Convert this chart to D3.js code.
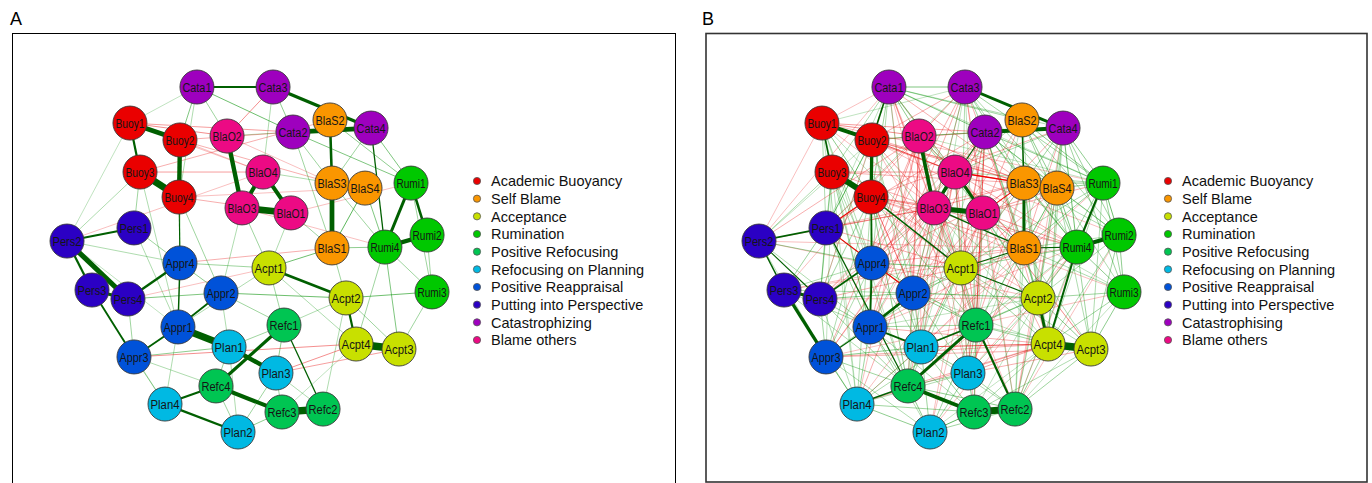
<!DOCTYPE html>
<html>
<head>
<meta charset="utf-8">
<script src="https://cdnjs.cloudflare.com/ajax/libs/d3/7.8.5/d3.min.js"></script>
<style>
    body { margin: 0; background: #fff; }
    text { font-family: "Liberation Sans", Arial, sans-serif; }
</style>
</head>
<body>
<div id="chart_div"></div>
<script>

// nodes and their (qgraph style) layout, shared by both panels
var nodeNames = ["Buoy1", "Buoy2", "Buoy3", "Buoy4", "BlaS1", "BlaS2", "BlaS3", "BlaS4",
    "Acpt1", "Acpt2", "Acpt3", "Acpt4", "Rumi1", "Rumi2", "Rumi3", "Rumi4",
    "Refc1", "Refc2", "Refc3", "Refc4", "Plan1", "Plan2", "Plan3", "Plan4",
    "Appr1", "Appr2", "Appr3", "Appr4", "Pers1", "Pers2", "Pers3", "Pers4",
    "Cata1", "Cata2", "Cata3", "Cata4", "BlaO1", "BlaO2", "BlaO3", "BlaO4"];
var nodeGroups = [0, 0, 0, 0, 1, 1, 1, 1, 2, 2, 2, 2, 3, 3, 3, 3, 4, 4, 4, 4,
    5, 5, 5, 5, 6, 6, 6, 6, 7, 7, 7, 7, 8, 8, 8, 8, 9, 9, 9, 9];
var layoutX = [-0.655, -0.381, -0.600, -0.386, 0.452, 0.441, 0.452, 0.633,
    0.107, 0.529, 0.819, 0.584, 0.885, 0.973, 1.000, 0.742,
    0.189, 0.403, 0.178, -0.184, -0.112, -0.063, 0.145, -0.463,
    -0.392, -0.156, -0.633, -0.381, -0.633, -1.000, -0.863, -0.666,
    -0.288, 0.238, 0.129, 0.666, 0.227, -0.123, -0.041, 0.074];
var layoutY = [0.791, 0.693, 0.507, 0.362, 0.067, 0.809, 0.443, 0.414,
    -0.049, -0.223, -0.519, -0.490, 0.443, 0.142, -0.188, 0.072,
    -0.380, -0.867, -0.884, -0.733, -0.507, -1.000, -0.658, -0.838,
    -0.391, -0.194, -0.565, -0.020, 0.183, 0.107, -0.177, -0.229,
    1.000, 0.739, 1.000, 0.762, 0.270, 0.716, 0.299, 0.507];

var groupNamesA = ["Academic Buoyancy", "Self Blame", "Acceptance", "Rumination",
    "Positive Refocusing", "Refocusing on Planning", "Positive Reappraisal",
    "Putting into Perspective", "Catastrophizing", "Blame others"];
var groupNamesB = ["Academic Buoyancy", "Self Blame", "Acceptance", "Rumination",
    "Positive Refocusing", "Refocusing on Planning", "Positive Reappraisal",
    "Putting into Perspective", "Catastrophising", "Blame others"];
var groupColors = ["#EA0000", "#FA9600", "#C8E000", "#00C800", "#00C552",
    "#00B9E3", "#0052D9", "#2B00C4", "#9E00BE", "#EC0A84"];

// panel A: regularised network
var edgesA = [
    "Buoy1 Buoy2 .30", "Buoy2 Buoy4 .28", "Buoy3 Buoy4 .42", "Buoy1 Buoy3 .16",
    "Cata1 Cata3 .15", "Cata3 Cata4 .22", "Cata2 Cata4 .30",
    "BlaS2 BlaS3 .18", "BlaS3 BlaS1 .30", "BlaS4 BlaS1 .09",
    "BlaO2 BlaO3 .28", "BlaO4 BlaO3 .26", "BlaO4 BlaO1 .26", "BlaO3 BlaO1 .40",
    "Rumi1 Rumi4 .20", "Rumi1 Rumi2 .18", "Rumi4 Rumi2 .28",
    "Pers1 Pers2 .15", "Pers2 Pers4 .32", "Pers2 Pers3 .16", "Pers3 Pers4 .20",
    "Pers3 Appr3 .14", "Pers4 Appr4 .17", "Appr4 Appr1 .12", "Appr1 Appr2 .14",
    "Appr1 Appr3 .14", "Appr1 Plan1 .42", "Plan1 Plan3 .28",
    "Refc4 Refc1 .22", "Refc4 Plan4 .16", "Refc4 Refc3 .26", "Refc3 Refc2 .44",
    "Refc1 Refc2 .11", "Plan4 Plan2 .17",
    "Acpt1 Acpt2 .18", "Acpt2 Acpt4 .16", "Acpt4 Acpt3 .48",
    "Cata4 Rumi4 .11", "Buoy4 Appr4 .10", "Cata1 Buoy2 .07", "Cata1 Cata2 .08",
    "Pers4 Appr2 .07", "Appr2 Acpt2 .08", "Acpt2 Rumi3 .08", "Acpt1 BlaS1 .08",
    "Appr3 Plan1 .06", "Plan2 Refc3 .06", "Plan4 Appr3 .05", "Cata2 Rumi1 .07",
    "BlaS2 Rumi1 .06", "Cata4 Rumi1 .07", "Rumi4 Acpt3 .07", "BlaS4 Rumi4 .07",
    "Refc1 Plan3 .06", "Appr2 Appr4 .06", "Appr3 Pers4 .05", "Refc1 Acpt1 .05",
    "Cata3 Cata2 .06", "BlaO2 Cata1 .05", "Cata1 Buoy4 .04", "Cata3 BlaO4 .04",
    "Cata2 BlaS3 .05", "Cata2 BlaS1 .05", "Cata4 BlaS3 .05", "Rumi1 Rumi3 .05",
    "Rumi2 Rumi3 .05", "Rumi4 Rumi3 .05", "Acpt1 Appr4 .05", "Acpt1 Appr1 .04",
    "Acpt2 Refc1 .04", "Acpt4 Rumi4 .05", "Acpt3 Rumi3 .05", "Acpt2 Acpt3 .05",
    "Acpt1 Acpt4 .04", "Plan3 Refc3 .05", "Plan3 Plan2 .05", "Plan1 Plan2 .04",
    "Plan1 Refc4 .05", "Refc4 Plan2 .05", "Plan4 Appr1 .04", "Appr1 Pers1 .04",
    "Pers1 Buoy3 .05", "Pers2 Buoy3 .04", "Pers2 Buoy1 .03", "Pers1 Appr4 .05",
    "Pers2 Appr4 .04", "Pers2 Appr1 .03", "Buoy1 Cata1 .03", "Buoy3 Appr1 .04",
    "Buoy2 Appr4 .04", "Buoy4 Appr2 .05", "BlaO3 Appr2 .04", "BlaO3 Acpt1 .05",
    "BlaO1 Acpt1 .04", "BlaO1 BlaS1 .05", "BlaO4 BlaS3 .04", "BlaO2 Cata2 .04",
    "BlaS1 Rumi4 .06", "BlaS3 Rumi4 .05", "BlaS1 Acpt2 .05", "Appr2 Refc1 .05",
    "Appr2 Plan1 .04", "Refc1 Plan1 .05", "Refc2 Plan3 .04", "Refc2 Acpt2 .04",
    "Refc3 Acpt4 .03", "Appr3 Refc4 .04", "Pers3 Plan4 .03",
    "Buoy1 BlaO2 -.06", "Buoy1 Cata2 -.05", "Buoy2 BlaS3 -.04", "Buoy3 BlaO4 -.05",
    "Buoy3 BlaS2 -.04", "Buoy4 BlaO1 -.04", "Buoy2 Cata2 -.04", "Buoy4 BlaS4 -.03",
    "Cata3 BlaO2 -.06", "Buoy1 BlaO4 -.03", "BlaO2 BlaS3 -.03", "Appr3 Acpt4 -.06",
    "Plan3 Acpt4 -.06", "Plan3 Acpt3 -.05", "Pers2 BlaO4 -.03", "Appr4 BlaS1 -.04",
    "Pers4 Acpt1 -.03", "BlaO3 Rumi4 -.03", "BlaO1 Rumi1 -.03", "Buoy2 BlaO4 -.03"
];

// panel B: full network, the visible stronger edges
var edgesB = [
    "Buoy1 Buoy2 .26", "Buoy2 Buoy4 .22", "Buoy3 Buoy4 .36", "Buoy1 Buoy3 .13", "Buoy1 Buoy4 .06",
    "Cata1 Cata3 .07", "Cata3 Cata4 .20", "Cata2 Cata4 .26", "Cata1 Buoy2 .13", "Cata1 BlaO2 .06",
    "Cata1 Cata2 .07", "BlaS2 BlaS3 .12", "BlaS3 BlaS1 .20", "BlaS4 BlaS1 .08", "BlaS2 BlaS4 .06",
    "BlaO2 BlaO3 .24", "BlaO4 BlaO3 .22", "BlaO4 BlaO1 .20", "BlaO3 BlaO1 .32",
    "Rumi1 Rumi4 .16", "Rumi4 Rumi2 .26", "Rumi1 Rumi2 .08",
    "Pers1 Pers2 .13", "Pers2 Pers3 .12", "Pers3 Pers4 .20", "Pers2 Pers4 .10",
    "Pers3 Appr3 .22", "Pers4 Appr4 .13", "Pers1 Refc4 .11",
    "Appr4 Appr1 .14", "Buoy4 Appr4 .12", "Appr1 Appr2 .18", "Appr1 Appr3 .10",
    "Appr1 Plan1 .14", "Appr4 Appr2 .06",
    "Plan1 Refc1 .12", "Refc1 Refc4 .20", "Refc4 Refc3 .24", "Refc3 Refc2 .42",
    "Refc1 Refc2 .16", "Plan4 Refc4 .12", "Plan2 Refc3 .09", "Plan1 Plan3 .06", "Plan4 Plan2 .06",
    "Acpt2 Acpt4 .20", "Acpt4 Acpt3 .45", "Acpt1 Acpt2 .10", "Rumi4 Acpt4 .15", "Acpt1 BlaS1 .10",
    "Buoy4 Acpt1 .12", "BlaO3 BlaS1 .12", "Buoy2 Pers1 .09", "Cata2 BlaO3 .10", "Rumi4 BlaS1 .10",
    "Appr2 Acpt2 .07", "Acpt2 Rumi3 .05", "Appr4 Acpt1 .07", "Appr3 Plan1 .06",
    "BlaO1 BlaS3 -.10", "BlaO4 BlaS3 -.12", "Cata2 Refc1 -.09", "Buoy4 Pers1 -.10",
    "Pers1 Appr2 -.10", "Buoy4 Appr2 -.08", "Buoy2 BlaO4 -.08", "Plan1 Acpt4 -.09"
];

// panel B: the faint remainder, one row per node
var edgesBFaint = [
    "Cata1|Buoy1 -.03|Buoy3 .04|Buoy4 .05|BlaO4 .05|BlaO3 -.04|BlaO1 .04|BlaS2 .05|BlaS3 -.04|Appr4 .04|Acpt1 -.03|Pers1 .03|Pers2 -.03|Rumi1 .03|Refc1 -.03|Appr2 .04|Plan1 -.03|Cata4 .04",
    "Cata3|Buoy2 -.04|Buoy1 .03|BlaO2 -.05|BlaO3 .05|BlaO1 -.04|BlaS3 .05|BlaS4 .04|Cata2 .05|Rumi1 .05|Rumi4 .04|Acpt1 .04|Appr2 -.03|Refc1 .03|Plan1 .03|BlaS1 -.04|Pers1 .03",
    "Cata2|Buoy1 -.05|Buoy2 -.05|BlaO2 .05|BlaS3 .05|BlaS1 .06|BlaS4 .05|Rumi1 .06|Rumi4 .05|Rumi2 .04|Acpt2 .04|Appr4 -.04|Appr1 -.03|Plan3 .03|Acpt1 -.04|Pers4 -.03|Refc4 .03",
    "Cata4|Rumi1 .06|Rumi4 .08|Rumi2 .05|Rumi3 .05|BlaS3 .05|BlaS4 .05|BlaS1 -.04|Acpt2 .05|Acpt4 .04|BlaO1 -.04|BlaO4 .04|Refc2 -.03|Plan3 .03|Buoy4 -.04",
    "Buoy1|BlaO2 -.06|Cata2 -.05|BlaO4 -.05|BlaS3 -.04|Pers1 .04|Pers2 -.03|Appr4 .04|Appr1 .03|Acpt1 .03|BlaO3 -.03|Refc4 .03|Plan4 .03",
    "Buoy2|BlaO2 .06|BlaO3 -.05|BlaS3 -.05|BlaS4 -.04|Appr4 .05|Appr1 .04|Appr2 .04|Refc1 -.03|Acpt1 .04|Rumi4 -.03|Plan1 .03|Pers4 .03",
    "Buoy3|BlaO4 -.05|BlaO3 -.04|BlaS3 -.04|Pers1 .05|Pers2 .04|Pers4 .04|Appr4 .04|Appr1 .05|Appr3 .03|Plan4 .03|Refc4 .04|Acpt1 -.03",
    "Buoy4|BlaO3 -.06|BlaO1 -.05|BlaS1 -.04|Pers4 .05|Appr1 .05|Appr3 .04|Refc4 .06|Plan1 .05|Plan4 .04|Refc1 .05|Acpt2 -.03|Rumi4 -.03",
    "BlaO2|BlaO4 .06|BlaO1 .05|BlaS3 -.05|BlaS1 -.04|Appr4 -.05|Appr2 -.05|Appr1 -.04|Acpt1 .04|Refc1 -.04|Pers1 -.04|Plan1 -.03|Rumi1 .03|Cata4 .03",
    "BlaO4|BlaS4 -.05|BlaS1 -.05|Rumi1 .04|Rumi4 -.04|Acpt1 .05|Acpt2 .04|Appr2 -.04|Appr4 -.04|Refc1 -.05|Plan3 -.03|Pers4 -.03",
    "BlaO3|BlaS3 -.05|Acpt1 .05|Acpt2 .04|Appr4 -.05|Appr2 .05|Appr1 .04|Refc1 .04|Refc4 .04|Plan1 .04|Plan3 .03|Pers1 -.05|Pers4 -.04|Rumi4 -.04|Acpt4 .03",
    "BlaO1|BlaS1 .06|BlaS4 -.05|Rumi4 -.05|Rumi1 -.04|Acpt1 -.05|Acpt2 .05|Acpt4 -.04|Refc1 .05|Refc2 .04|Plan3 -.04|Appr2 -.04|Rumi3 .03",
    "BlaS2|Rumi1 .06|Rumi4 .05|BlaS1 .05|Acpt2 .04|BlaO4 .04|BlaO1 -.04|Appr2 -.03|Refc1 .03|Rumi2 .04",
    "BlaS3|BlaS4 .06|Rumi1 .06|Rumi4 .07|Rumi2 .04|Acpt2 .05|Acpt4 .04|Refc1 -.04|Refc2 .03|Appr2 -.04|Plan3 .03|Acpt1 .04",
    "BlaS4|Rumi1 .06|Rumi4 .07|Rumi2 .05|Rumi3 .04|Acpt2 .05|Acpt4 .05|Acpt3 .04|Refc2 -.03|Plan3 -.03|Acpt1 -.04",
    "BlaS1|Rumi1 .05|Rumi2 .04|Rumi3 .04|Acpt2 .06|Acpt4 .05|Acpt3 .04|Refc1 .05|Refc2 .04|Plan3 -.04|Plan1 -.03|Appr2 .04|Appr4 -.04",
    "Rumi1|Rumi3 .05|Acpt2 .05|Acpt4 .04|Acpt3 .04|Refc2 -.03|Acpt1 .04",
    "Rumi2|Rumi3 .06|Acpt2 .04|Acpt3 .05|Acpt4 .04|Refc2 -.03",
    "Rumi4|Rumi3 .06|Acpt2 .06|Acpt3 .05|Acpt1 .05|Refc1 .04|Refc2 .04|Plan3 -.03",
    "Rumi3|Acpt2 .05|Acpt4 .05|Acpt3 .06|Refc2 .03",
    "Acpt1|Appr2 .05|Appr1 .05|Refc1 .05|Plan1 .05|Plan3 .04|Acpt4 .05|Acpt3 .04|Pers4 -.04|Refc4 .04|Pers1 -.04",
    "Acpt2|Refc1 .06|Refc2 .05|Plan3 .04|Plan1 .04|Acpt3 .06|Appr1 .03|Refc3 .03",
    "Acpt4|Refc1 .05|Refc2 .05|Refc3 .04|Plan3 -.05|Plan2 .03|Appr2 .03|Appr3 -.04",
    "Acpt3|Refc2 .05|Refc3 .04|Plan3 -.04|Refc1 .04",
    "Refc1|Plan3 .06|Refc3 .06|Appr2 .06|Appr4 .05|Plan4 .04|Plan2 .05|Appr1 .05",
    "Refc2|Plan3 .05|Plan2 .05|Refc4 .06|Plan1 .04",
    "Refc3|Plan3 .06|Plan1 .05|Plan4 .05|Appr1 .04",
    "Refc4|Plan1 .06|Plan3 .05|Plan2 .06|Appr1 .06|Appr3 .05|Appr2 .05|Pers4 .05|Pers3 .04",
    "Plan1|Plan2 .05|Plan4 .05|Appr2 .05|Appr4 .04",
    "Plan3|Plan2 .05|Plan4 .04|Appr2 .04",
    "Plan4|Appr1 .05|Appr3 .06|Pers3 .04|Pers4 .04",
    "Plan2|Appr1 .04|Appr3 .04",
    "Appr1|Pers4 .05|Pers1 .05|Pers2 .04|Pers3 .04",
    "Appr2|Pers4 .06|Pers3 .04|Appr3 .05",
    "Appr3|Pers4 .05|Appr4 .04|Pers2 .03",
    "Appr4|Pers1 .06|Pers2 .05|Pers3 .04",
    "Pers1|Pers4 .06|Pers3 .05",
    "Pers2|Buoy1 -.03|Buoy2 .03|BlaO3 -.04|BlaO2 -.04|Acpt2 -.03|BlaS1 -.03",
    "Pers3|BlaO2 -.03|BlaS1 -.03|Rumi4 -.03",
    "Pers4|BlaO3 -.04|Cata1 -.03|Acpt2 -.03",
    "Appr3|BlaO2 -.04|BlaO3 -.04|Cata2 -.03|Acpt3 -.04|Rumi3 -.03",
    "Plan4|BlaO3 -.04|BlaO2 -.03|BlaS3 -.03|Rumi1 -.03|Acpt4 -.04",
    "Plan2|BlaO1 -.03|Cata2 -.03|Rumi4 -.03",
    "Refc4|BlaO2 -.04|BlaO4 -.04|Rumi4 -.03|Acpt4 -.04",
    "Plan1|BlaO1 -.05|BlaO4 -.04",
    "Plan3|BlaO3 -.04|Cata1 -.03",
    "Refc3|BlaO1 -.04|BlaO4 -.03",
    "Refc2|BlaO3 -.03|Cata3 -.03",
    "Acpt3|BlaO4 -.03|Cata1 -.03",
    "Acpt4|Cata2 -.04",
    "Rumi3|Buoy4 -.03", "Rumi2|Buoy2 -.03", "Rumi1|Buoy1 -.03",
    "Appr1|Cata3 -.04|BlaS1 -.04|Rumi4 -.03|Acpt4 -.04",
    "Appr4|Cata3 -.04|BlaS3 -.04",
    "Appr2|Cata2 -.05",
    "Pers1|Cata2 -.04|BlaS3 -.03"
];


function parseEdges(list, faint) {
    var seen = {};
    var out = [];
    var add = function (a, b, w) {
        var key = a < b ? a + "-" + b : b + "-" + a;
        if (seen[key] || a === b) return;
        seen[key] = true;
        out.push({source: a, target: b, weight: w});
    };
    list.forEach(function (s) {
        var p = s.split(" ");
        add(p[0], p[1], +p[2]);
    });
    faint.forEach(function (row) {
        var parts = row.split("|");
        parts.slice(1).forEach(function (s) {
            var p = s.split(" ");
            add(parts[0], p[0], +p[1]);
        });
    });
    return out;
}


function DrawNetwork(svg, offsetX) {

    var self = this;

    self.group = svg.append("g");
    self.x = d3.scaleLinear().domain([-1, 1]).range([67 + offsetX, 432 + offsetX]);
    self.y = d3.scaleLinear().domain([-1, 1]).range([432, 87]);
    self.cut = 0.1;
    self.width = d3.scaleLinear().domain([self.cut, 0.45]).range([1.1, 7.5]).clamp(true);
    self.alpha = d3.scaleLinear().domain([0, self.cut]).range([0.06, 0.75]).clamp(true);
    self.color = d3.scaleOrdinal().domain(d3.range(10)).range(groupColors);
}


DrawNetwork.prototype.draw = function (edges) {

    var self = this;

    var nodes = nodeNames.map(function (n, i) {
        return {id: n, group: nodeGroups[i], lx: layoutX[i], ly: layoutY[i]};
    });
    var byId = {};
    nodes.forEach(function (d) { byId[d.id] = d; });

    edges = edges.slice().sort(function (a, b) {
        return Math.abs(a.weight) - Math.abs(b.weight);
    });

    self.group.selectAll(".link")
        .data(edges)
        .enter().append("line")
        .attr("class", "link")
        .attr("x1", function (d) { return self.x(byId[d.source].lx); })
        .attr("y1", function (d) { return self.y(byId[d.source].ly); })
        .attr("x2", function (d) { return self.x(byId[d.target].lx); })
        .attr("y2", function (d) { return self.y(byId[d.target].ly); })
        .attr("stroke", function (d) {
            var strong = Math.abs(d.weight) >= self.cut;
            if (d.weight > 0) return strong ? "#005F00" : "#129612";
            return strong ? "#F00000" : "#E81010";
        })
        .attr("stroke-opacity", function (d) {
            return Math.abs(d.weight) >= self.cut ? 1 : self.alpha(Math.abs(d.weight));
        })
        .attr("stroke-width", function (d) {
            return Math.abs(d.weight) >= self.cut ? self.width(Math.abs(d.weight)) : 1;
        });

    var node = self.group.selectAll(".node")
        .data(nodes)
        .enter().append("g")
        .attr("class", "node")
        .attr("transform", function (d) {
            return "translate(" + self.x(d.lx) + "," + self.y(d.ly) + ")";
        });

    node.append("circle")
        .attr("r", 17)
        .attr("fill", function (d) { return self.color(d.group); })
        .attr("stroke", "#3a3a3a")
        .attr("stroke-width", 0.9);

    node.append("text")
        .attr("text-anchor", "middle")
        .attr("dy", "0.37em")
        .attr("textLength", 29)
        .attr("lengthAdjust", "spacingAndGlyphs")
        .style("font-size", "12.5px")
        .attr("fill", "#151515")
        .text(function (d) { return d.id; });
};


DrawNetwork.prototype.legend = function (names, bulletX) {

    var self = this;
    var ly = d3.scaleLinear().domain([0, 9]).range([181, 340]);

    var item = self.group.selectAll(".legend")
        .data(names)
        .enter().append("g")
        .attr("class", "legend")
        .attr("transform", function (d, i) {
            return "translate(" + bulletX + "," + ly(i) + ")";
        });

    item.append("circle")
        .attr("r", 3.6)
        .attr("fill", function (d, i) { return groupColors[i]; })
        .attr("stroke", "#555")
        .attr("stroke-width", 0.8);

    item.append("text")
        .attr("x", 14)
        .attr("dy", "0.36em")
        .style("font-size", "14.5px")
        .attr("fill", "#111")
        .text(function (d) { return d; });
};


var svg = d3.select("#chart_div").append("svg")
    .attr("width", 1372)
    .attr("height", 483);

svg.append("rect")
    .attr("x", 12.5).attr("y", 33.5)
    .attr("width", 663).attr("height", 470)
    .attr("fill", "none").attr("stroke", "#000").attr("stroke-width", 1);
svg.append("rect")
    .attr("x", 706).attr("y", 33.5)
    .attr("width", 661).attr("height", 448.5)
    .attr("fill", "none").attr("stroke", "#333").attr("stroke-width", 1.6);

svg.append("text").attr("x", 10).attr("y", 25)
    .style("font-size", "18px").text("A");
svg.append("text").attr("x", 702).attr("y", 25)
    .style("font-size", "18px").text("B");

var netA = new DrawNetwork(svg, 0);
netA.draw(parseEdges(edgesA, []));
netA.legend(groupNamesA, 477);

var netB = new DrawNetwork(svg, 692);
netB.draw(parseEdges(edgesB, edgesBFaint));
netB.legend(groupNamesB, 1168);

</script>
</body>
</html>
